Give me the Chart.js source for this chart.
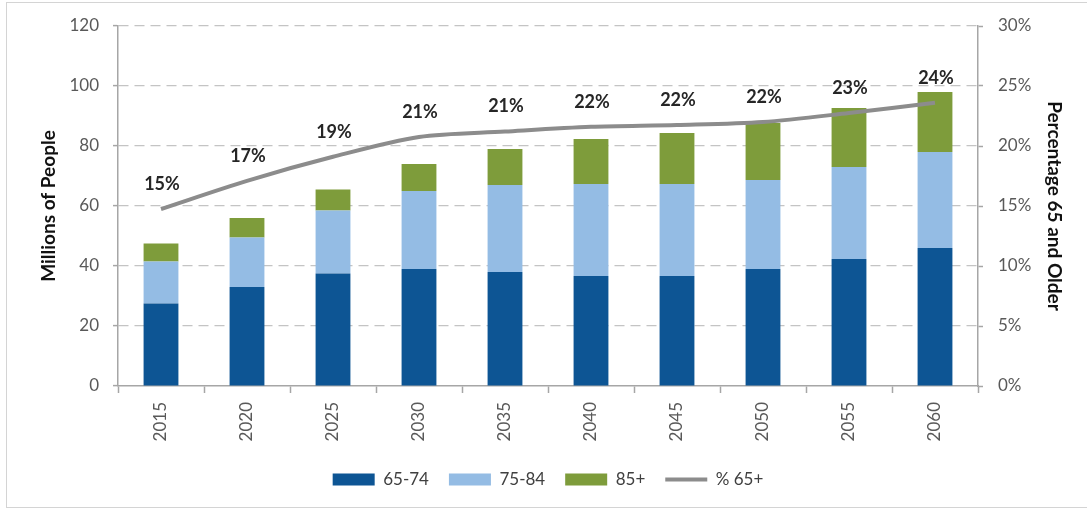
<!DOCTYPE html>
<html><head><meta charset="utf-8">
<script src="https://cdn.jsdelivr.net/npm/chart.js@4.4.0/dist/chart.umd.min.js"></script>
<style>
html,body{margin:0;padding:0;background:#fff;}
#wrap{position:relative;width:1087px;height:508px;overflow:hidden;}
#frame{position:absolute;left:6px;top:2px;width:1085px;height:506px;border:1px solid #d4d4d4;box-sizing:border-box;pointer-events:none;}
canvas{position:absolute;left:0;top:0;}
</style></head><body>
<div id="wrap"><canvas id="c" width="1087" height="508"></canvas><div id="frame"></div></div>
<script>
const years = ['2015','2020','2025','2030','2035','2040','2045','2050','2055','2060'];
const age65to74 = [27.5, 33, 37.5, 39, 38, 36.7, 36.7, 39, 42.3, 46];
const age75to84 = [14, 16.5, 21, 26, 29, 30.6, 30.6, 29.7, 30.7, 32];
const age85plus = [6, 6.5, 7, 9, 12, 15, 17, 19, 19.7, 20];
const pct65plus = [14.75, 17.1, 19.1, 20.75, 21.2, 21.6, 21.75, 22, 22.75, 23.6];
const leftTicks = [0, 20, 40, 60, 80, 100, 120];
const rightTicks = [0, 5, 10, 15, 20, 25, 30];

const FONT = 'Lato, "Open Sans", sans-serif';
const axisCol = '#a6a6a6';
const tickCol = '#595959';

const pctLabels = {
  id: 'pctLabels',
  afterDatasetsDraw(chart) {
    const idx = chart.data.datasets.findIndex(d => d.type === 'line');
    const meta = chart.getDatasetMeta(idx);
    const ctx = chart.ctx;
    ctx.save();
    ctx.font = 'bold 18px ' + FONT;
    ctx.fillStyle = '#262626';
    ctx.textAlign = 'center';
    ctx.textBaseline = 'middle';
    meta.data.forEach((pt, i) => {
      ctx.fillText(Math.round(pct65plus[i]) + '%', pt.x + 1, pt.y - 25);
    });
    ctx.restore();
  }
};

new Chart(document.getElementById('c'), {
  type: 'bar',
  data: {
    labels: years,
    datasets: [
      {label: '65-74', data: age65to74, backgroundColor: '#0d5594', stack: 's', order: 2, pointStyle: 'rect'},
      {label: '75-84', data: age75to84, backgroundColor: '#94bce4', stack: 's', order: 2, pointStyle: 'rect'},
      {label: '85+', data: age85plus, backgroundColor: '#7e9c3b', stack: 's', order: 2, pointStyle: 'rect'},
      {type: 'line', label: '% 65+', data: pct65plus, yAxisID: 'y1', borderColor: '#8c8c8c', backgroundColor: '#8c8c8c',
       borderWidth: 4, pointRadius: 0, tension: 0.3, order: 0, pointStyle: 'line'}
    ]
  },
  options: {
    responsive: false,
    animation: false,
    devicePixelRatio: 1,
    datasets: {bar: {barPercentage: 0.405, categoryPercentage: 1}},
    layout: {padding: {top: 26, bottom: 10, left: 0, right: 0}},
    plugins: {
      tooltip: {enabled: false},
      legend: {
        position: 'bottom',
        fullSize: false,
        labels: {
          usePointStyle: true, pointStyleWidth: 42, boxHeight: 12, padding: 20,
          color: '#404040', font: {family: FONT, size: 17},
          sort: (a, b) => a.datasetIndex - b.datasetIndex
        }
      }
    },
    scales: {
      x: {
        stacked: true,
        grid: {drawOnChartArea: false, drawTicks: true, tickLength: 7, tickColor: axisCol, tickWidth: 1.5, offset: true},
        border: {color: axisCol, width: 1.5},
        ticks: {maxRotation: 90, minRotation: 90, padding: 9, color: tickCol, font: {family: FONT, size: 17}},
        afterFit(s) { s.height = 65; }
      },
      y: {
        stacked: true, min: 0, max: 120,
        afterBuildTicks(s) { s.ticks = leftTicks.map(v => ({value: v})); },
        grid: {color: ctx => ctx.tick && ctx.tick.value === 0 ? 'rgba(0,0,0,0)' : '#c4c4c4', lineWidth: 1.2,
               tickLength: 5, tickColor: axisCol, tickWidth: 1.5, tickBorderDash: []},
        border: {color: axisCol, width: 1.5, dash: [10, 6]},
        ticks: {padding: 14, color: tickCol, font: {family: FONT, size: 17}},
        title: {display: true, text: 'Millions of People', color: '#111', font: {family: FONT, size: 19, weight: 'bold'}, padding: {top: 37, bottom: 0}},
        afterFit(s) { s.width = 118; }
      },
      y1: {
        position: 'right', min: 0, max: 30,
        afterBuildTicks(s) { s.ticks = rightTicks.map(v => ({value: v})); },
        grid: {drawOnChartArea: false, tickLength: 5, tickColor: axisCol, tickWidth: 1.5},
        border: {color: axisCol, width: 1.5},
        ticks: {padding: 15, color: tickCol, font: {family: FONT, size: 17}, callback: v => v + '%'},
        title: {display: true, text: 'Percentage 65 and Older', color: '#111', font: {family: FONT, size: 19, weight: 'bold'}, padding: {top: 21, bottom: 0}},
        afterFit(s) { s.width = 109; }
      }
    }
  },
  plugins: [pctLabels]
});
</script>
</body></html>
